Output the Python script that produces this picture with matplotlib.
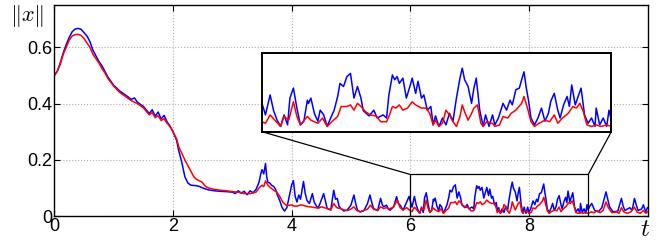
import matplotlib
matplotlib.use("Agg")
import matplotlib.pyplot as plt
from matplotlib.patches import Rectangle, ConnectionPatch

plt.rcParams['font.family'] = ['Liberation Sans', 'DejaVu Sans']
plt.rcParams['mathtext.fontset'] = 'cm'

# ||x|| over time, two runs (blue / red)
t_blue = [0.0, 0.05, 0.1, 0.15, 0.2, 0.25, 0.3, 0.35, 0.4, 0.45, 0.5, 0.55, 0.6, 0.65, 0.7,
          0.75, 0.8, 0.85, 0.9, 1.0, 1.1, 1.2, 1.3, 1.35, 1.4, 1.5, 1.6, 1.65, 1.7, 1.75, 1.8,
          1.85, 1.9, 1.95, 2.0, 2.06, 2.1, 2.15, 2.2, 2.25, 2.3, 2.4, 2.45, 2.5, 2.6, 2.7, 2.8,
          2.9, 3.0, 3.05, 3.1, 3.15, 3.2, 3.25, 3.3, 3.35, 3.4,
          3.45, 3.48, 3.5, 3.53, 3.56, 3.58, 3.6, 3.63, 3.66, 3.7, 3.73, 3.76, 3.8, 3.84, 3.88,
          3.92, 3.96, 4.0, 4.03, 4.06, 4.09, 4.12, 4.15, 4.2, 4.23, 4.26, 4.3, 4.35, 4.38, 4.42,
          4.45, 4.49, 4.54, 4.6, 4.66, 4.71, 4.74, 4.77, 4.8, 4.83, 4.88, 4.94, 5.0, 5.05, 5.08,
          5.11, 5.16, 5.22, 5.28, 5.32, 5.35, 5.38, 5.45, 5.5, 5.53, 5.55, 5.6, 5.63, 5.66, 5.72,
          5.77, 5.8, 5.83, 5.88, 5.94, 5.98,
          6.0, 6.03, 6.07, 6.1, 6.13, 6.16, 6.19, 6.22, 6.24, 6.27, 6.3, 6.33, 6.36, 6.39, 6.4,
          6.42, 6.45, 6.48, 6.5, 6.53, 6.56, 6.59, 6.62, 6.65, 6.67, 6.7, 6.73, 6.76, 6.79, 6.82,
          6.85, 6.87, 6.92, 6.96, 6.99, 7.04, 7.07, 7.09, 7.12, 7.14, 7.16, 7.18, 7.21, 7.24,
          7.27, 7.29, 7.32, 7.34, 7.37, 7.39, 7.42, 7.45, 7.47, 7.49, 7.52, 7.55, 7.58, 7.61,
          7.64, 7.67, 7.7, 7.72, 7.74, 7.77, 7.8, 7.82, 7.84, 7.87, 7.9, 7.92, 7.95, 7.98, 8.0,
          8.03, 8.07, 8.1, 8.13, 8.15, 8.18, 8.21, 8.23, 8.25, 8.27, 8.29, 8.31, 8.34, 8.37, 8.4,
          8.43, 8.46, 8.48, 8.51, 8.54, 8.56, 8.59, 8.62, 8.64, 8.66, 8.69, 8.71, 8.74, 8.77,
          8.8, 8.83, 8.86, 8.87, 8.9, 8.93, 8.96, 8.98, 9.0,
          9.02, 9.06, 9.11, 9.17, 9.23, 9.3, 9.33, 9.36, 9.42, 9.5, 9.56, 9.59, 9.62, 9.7, 9.74,
          9.78, 9.81, 9.84, 9.9, 9.93, 9.97, 10.0]
x_blue = [0.5, 0.515, 0.545, 0.58, 0.61, 0.635, 0.655, 0.665, 0.667, 0.664, 0.652, 0.64, 0.62,
          0.59, 0.57, 0.55, 0.535, 0.515, 0.495, 0.465, 0.445, 0.43, 0.415, 0.42, 0.405, 0.39,
          0.365, 0.378, 0.355, 0.37, 0.345, 0.358, 0.335, 0.32, 0.3, 0.27, 0.23, 0.19, 0.14,
          0.118, 0.11, 0.108, 0.105, 0.1, 0.093, 0.09, 0.088, 0.087, 0.085, 0.08, 0.09, 0.082,
          0.088, 0.076, 0.09, 0.083, 0.095,
          0.12, 0.15, 0.165, 0.15, 0.187, 0.14, 0.12, 0.118, 0.11, 0.105, 0.095, 0.075, 0.055,
          0.03, 0.018, 0.03, 0.07, 0.11, 0.126, 0.07, 0.05, 0.075, 0.06, 0.123, 0.08, 0.055,
          0.045, 0.08, 0.05, 0.035, 0.03, 0.051, 0.08, 0.027, 0.022, 0.092, 0.06, 0.063, 0.035,
          0.027, 0.018, 0.022, 0.039, 0.075, 0.045, 0.021, 0.015, 0.02, 0.045, 0.075, 0.05,
          0.027, 0.02, 0.063, 0.04, 0.033, 0.039, 0.025, 0.021, 0.033, 0.069, 0.045, 0.039,
          0.021, 0.051, 0.07,
          0.054, 0.032, 0.07, 0.04, 0.022, 0.01, 0.032, 0.013, 0.064, 0.083, 0.045, 0.013, 0.02,
          0.06, 0.054, 0.064, 0.035, 0.02, 0.041, 0.032, 0.01, 0.026, 0.041, 0.067, 0.092, 0.086,
          0.105, 0.111, 0.064, 0.086, 0.064, 0.04, 0.03, 0.041, 0.026, 0.032, 0.026, 0.07, 0.108,
          0.099, 0.105, 0.092, 0.102, 0.064, 0.086, 0.102, 0.073, 0.096, 0.064, 0.07, 0.041,
          0.048, 0.013, 0.03, 0.01, 0.026, 0.013, 0.035, 0.02, 0.064, 0.102, 0.121, 0.099, 0.086,
          0.054, 0.083, 0.102, 0.041, 0.01, 0.032, 0.01, 0.032, 0.013, 0.026, 0.054, 0.041, 0.06,
          0.051, 0.08, 0.083, 0.099, 0.114, 0.083, 0.058, 0.026, 0.013, 0.026, 0.045, 0.02,
          0.035, 0.058, 0.073, 0.041, 0.026, 0.051, 0.067, 0.048, 0.089, 0.051, 0.064, 0.083,
          0.032, 0.016, 0.026, 0.01, 0.045, 0.013, 0.026, 0.01, 0.041, 0.022,
          0.033, 0.045, 0.02, 0.015, 0.03, 0.086, 0.06, 0.033, 0.015, 0.018, 0.063, 0.035, 0.02,
          0.03, 0.02, 0.063, 0.04, 0.02, 0.025, 0.04, 0.015, 0.03]

t_red = [0.0, 0.05, 0.1, 0.15, 0.2, 0.25, 0.3, 0.35, 0.4, 0.45, 0.5, 0.55, 0.6, 0.65, 0.7,
         0.75, 0.8, 0.85, 0.9, 1.0, 1.1, 1.2, 1.3, 1.35, 1.4, 1.5, 1.6, 1.65, 1.7, 1.75, 1.8,
         1.85, 1.9, 1.95, 2.0, 2.06, 2.1, 2.2, 2.3, 2.35, 2.4, 2.45, 2.48, 2.5, 2.55, 2.6, 2.7,
         2.8, 2.9, 3.0, 3.1, 3.2, 3.3,
         3.4, 3.45, 3.5, 3.53, 3.56, 3.6, 3.65, 3.7, 3.75, 3.8, 3.85, 3.9, 3.95, 4.0, 4.05,
         4.1, 4.15, 4.2, 4.25, 4.3, 4.35, 4.4, 4.45, 4.5, 4.55, 4.6, 4.66, 4.71, 4.76, 4.82,
         4.88, 4.94, 5.0, 5.05, 5.1, 5.15, 5.22, 5.28, 5.33, 5.38, 5.45, 5.5, 5.55, 5.6, 5.65,
         5.72, 5.78, 5.83, 5.88, 5.94,
         6.0, 6.03, 6.07, 6.11, 6.16, 6.19, 6.23, 6.27, 6.3, 6.33, 6.39, 6.42, 6.48, 6.52,
         6.56, 6.6, 6.65, 6.68, 6.73, 6.76, 6.79, 6.82, 6.85, 6.89, 6.93, 6.98, 7.02, 7.07,
         7.09, 7.12, 7.15, 7.18, 7.21, 7.25, 7.29, 7.32, 7.37, 7.41, 7.44, 7.47, 7.49, 7.52,
         7.55, 7.58, 7.61, 7.64, 7.67, 7.7, 7.72, 7.74, 7.77, 7.8, 7.82, 7.85, 7.88, 7.9, 7.93,
         7.98, 8.0, 8.04, 8.07, 8.11, 8.14, 8.18, 8.23, 8.25, 8.28, 8.31, 8.34, 8.38, 8.43,
         8.47, 8.51, 8.54, 8.58, 8.63, 8.67, 8.7, 8.73, 8.76, 8.79, 8.83, 8.87, 8.91, 8.96, 9.0,
         9.05, 9.1, 9.15, 9.2, 9.25, 9.3, 9.34, 9.4, 9.48, 9.52, 9.56, 9.6, 9.66, 9.72, 9.78,
         9.82, 9.88, 9.93, 9.97, 10.0]
x_red = [0.5, 0.515, 0.54, 0.575, 0.6, 0.625, 0.64, 0.645, 0.646, 0.642, 0.632, 0.615, 0.6,
         0.575, 0.56, 0.545, 0.525, 0.51, 0.49, 0.462, 0.44, 0.425, 0.41, 0.405, 0.4, 0.385,
         0.36, 0.368, 0.35, 0.357, 0.34, 0.346, 0.33, 0.318, 0.3, 0.275, 0.245, 0.2, 0.16, 0.14,
         0.13, 0.125, 0.122, 0.118, 0.105, 0.1, 0.095, 0.092, 0.09, 0.087, 0.085, 0.08, 0.08,
         0.085, 0.1, 0.11, 0.105, 0.125, 0.11, 0.1, 0.092, 0.085, 0.07, 0.05, 0.04, 0.038, 0.04,
         0.035, 0.036, 0.04, 0.038, 0.035, 0.033, 0.032, 0.03, 0.028, 0.033, 0.03, 0.027, 0.022,
         0.045, 0.03, 0.027, 0.022, 0.02, 0.025, 0.033, 0.02, 0.015, 0.02, 0.025, 0.039, 0.025,
         0.02, 0.033, 0.027, 0.03, 0.025, 0.033, 0.057, 0.03, 0.022, 0.03,
         0.019, 0.016, 0.032, 0.022, 0.01, 0.029, 0.022, 0.057, 0.029, 0.013, 0.029, 0.022,
         0.016, 0.026, 0.01, 0.019, 0.029, 0.048, 0.048, 0.051, 0.041, 0.054, 0.048, 0.038,
         0.032, 0.03, 0.019, 0.019, 0.029, 0.048, 0.045, 0.051, 0.041, 0.045, 0.057, 0.051,
         0.045, 0.045, 0.035, 0.013, 0.022, 0.01, 0.016, 0.041, 0.032, 0.019, 0.01, 0.029,
         0.051, 0.038, 0.022, 0.035, 0.045, 0.051, 0.016, 0.01, 0.019, 0.016, 0.01, 0.013,
         0.029, 0.026, 0.035, 0.041, 0.054, 0.067, 0.045, 0.019, 0.01, 0.016, 0.022, 0.019,
         0.032, 0.016, 0.026, 0.035, 0.048, 0.045, 0.054, 0.038, 0.013, 0.01, 0.013, 0.01,
         0.013, 0.01,
         0.015, 0.012, 0.02, 0.012, 0.02, 0.05, 0.03, 0.012, 0.015, 0.01, 0.03, 0.015, 0.01,
         0.015, 0.032, 0.015, 0.01, 0.02, 0.01, 0.015]

xticks = [0, 2, 4, 6, 8]
xtick_labels = ['0', '2', '4', '6', '8']
yticks = [0, 0.2, 0.4, 0.6]
ytick_labels = ['0', '0.2', '0.4', '0.6']

fig = plt.figure(figsize=(6.71, 2.42), dpi=100)
ax = fig.add_axes([0.081, 0.107, 0.884, 0.872])

ax.plot(t_blue, x_blue, color='#0000ff', lw=1.1)
ax.plot(t_red, x_red, color='#ff0000', lw=1.1)
ax.set_xlim(0, 10)
ax.set_ylim(0, 0.75)
ax.set_xticks(xticks)
ax.set_xticklabels(xtick_labels)
ax.set_yticks(yticks)
ax.set_yticklabels(ytick_labels)
ax.tick_params(direction='in', top=True, right=True, length=4, labelsize=13, pad=1.5)
ax.grid(True, linestyle=':', color='#b0b0b0', lw=0.8)
for s in ax.spines.values():
    s.set_linewidth(1.0)

fig.text(0.041, 0.935, r'$\|x\|$', fontsize=16, ha='center', va='center')
fig.text(0.962, 0.055, r'$t$', fontsize=18, ha='center', va='center')

# zoomed window of the tail
zx0, zx1, zy1 = 6, 9, 0.148
ax.add_patch(Rectangle((zx0, 0), zx1 - zx0, zy1, fill=False, ec='black', lw=0.9, zorder=5))

axins = ax.inset_axes([3.5, 0.3, 5.89, 0.28], transform=ax.transData)
axins.plot(t_blue, x_blue, color='#0000ff', lw=1.1)
axins.plot(t_red, x_red, color='#ff0000', lw=1.1)
axins.set_xlim(zx0, zx1)
axins.set_ylim(0, 0.15)
axins.set_xticks([])
axins.set_yticks([])
for s in axins.spines.values():
    s.set_linewidth(1.4)

for xa, xb in [((0, 0), (zx0, zy1)), ((1, 0), (zx1, zy1))]:
    con = ConnectionPatch(xyA=xa, coordsA=axins.transAxes, xyB=xb, coordsB=ax.transData,
                          color='black', lw=0.9)
    fig.add_artist(con)

fig.savefig('out.png', dpi=100)
